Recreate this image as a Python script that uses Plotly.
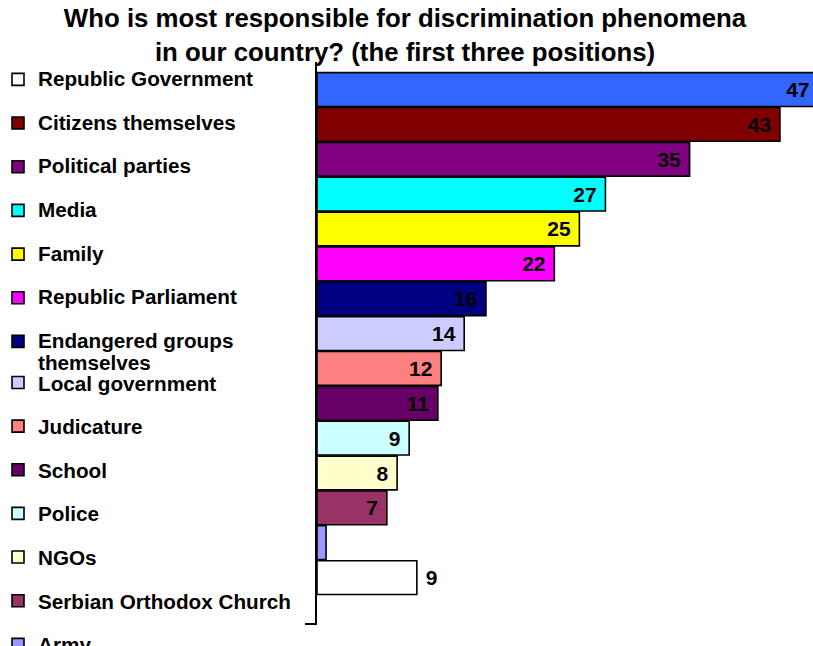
import plotly.graph_objects as go

# ---- data ----
title_text = "Who is most responsible for discrimination phenomena<br>in our country? (the first three positions)"

# bars, top to bottom
bar_categories = ["(unlabelled)", "Citizens themselves", "Political parties", "Media", "Family",
                  "Republic Parliament", "Endangered groups<br>themselves", "Local government",
                  "Judicature", "School", "Police", "NGOs", "Serbian Orthodox Church", "Army",
                  "Republic Government"]
bar_values = [47, 43.4, 34.93, 27.04, 24.6, 22.25, 15.84, 13.8, 11.64, 11.33, 8.64, 7.51, 6.55, 0.85, 9.36]
bar_colors = ["#3366FF", "#800000", "#800080", "#00FFFF", "#FFFF00", "#FF00FF", "#000080", "#CCCCFF",
              "#FF8080", "#660066", "#CCFFFF", "#FFFFCC", "#993366", "#9999FF", "#FFFFFF"]

# legend order (as shown in the legend on the left)
legend_order = ["Republic Government", "Citizens themselves", "Political parties", "Media", "Family",
                "Republic Parliament", "Endangered groups<br>themselves", "Local government",
                "Judicature", "School", "Police", "NGOs", "Serbian Orthodox Church", "Army"]

FONT = "Liberation Sans, Arial, sans-serif"
TXT = 20.7        # visible legend text size
LEG1_BASE = 17    # legend-1 base size (sets its tighter line spacing)


def legend_label(cat, rank):
    if rank < 7:
        return "<br>".join("<span style='font-size:%gpx'>%s</span>" % (TXT, part)
                           for part in cat.split("<br>"))
    return cat


fig = go.Figure()
for cat, val, col in zip(bar_categories, bar_values, bar_colors):
    in_legend = cat in legend_order
    rank = legend_order.index(cat) if in_legend else 99
    if cat == "Army":
        tpos, tmpl = "none", None
    elif cat == "Republic Government":
        tpos, tmpl = "outside", "\u00a0%{x:.0f}"
    else:
        tpos, tmpl = "inside", "%{x:.0f}\u00a0"
    fig.add_trace(go.Bar(
        x=[val], y=[cat], orientation="h", name=legend_label(cat, rank),
        marker=dict(color=col, line=dict(color="black", width=1.6)),
        width=0.97,
        textposition=tpos, texttemplate=tmpl,
        textfont=dict(family=FONT, size=21, color="black", weight="bold"),
        constraintext="none",
        showlegend=in_legend,
        legendgroup="g%d" % rank,
        legendrank=rank,
        legend="legend" if rank < 7 else "legend2",
        hovertemplate="%{x:.0f}<extra></extra>",
    ))

W, H = 813, 646
L, T, B = 317, 62, 21
pw = W - L
leg_x = (-2 - L) / pw
leg_common = dict(x=leg_x, xanchor="left", yref="container", yanchor="top",
                  bgcolor="rgba(0,0,0,0)", borderwidth=0, valign="top", traceorder="grouped")

fig.update_layout(
    width=W, height=H,
    margin=dict(l=L, r=0, t=T, b=B, autoexpand=False),
    paper_bgcolor="white", plot_bgcolor="white",
    barmode="overlay",
    font=dict(family=FONT, color="black"),
    title=dict(text=title_text, x=405 / W, xref="container", xanchor="center",
               y=1 - 27 / H, yref="container", yanchor="top",
               font=dict(family=FONT, size=25.8, color="black", weight="bold")),
    xaxis=dict(range=[0, 46.5], showline=False, showgrid=False, zeroline=False,
               showticklabels=False, ticks=""),
    yaxis=dict(type="category", categoryorder="array", categoryarray=bar_categories,
               range=[15.36, -0.79], showline=True, linecolor="black", linewidth=2,
               showgrid=False, zeroline=False, showticklabels=False,
               ticks="outside", tickmode="array", tickvals=[15.33], ticklen=10,
               tickwidth=2, tickcolor="black"),
    legend=dict(y=1 - 61.85 / H, tracegroupgap=18.57,
                font=dict(family=FONT, size=LEG1_BASE, color="black", weight="bold"),
                **leg_common),
    legend2=dict(y=1 - 362.5 / H, tracegroupgap=13.74,
                 font=dict(family=FONT, size=TXT, color="black", weight="bold"),
                 **leg_common),
)
try:
    fig.update_layout(legend_maxheight=640, legend2_maxheight=640)
except Exception:
    pass

fig.write_html("out.html", config={"displayModeBar": False},
               post_script="document.body.style.margin='0px';")
